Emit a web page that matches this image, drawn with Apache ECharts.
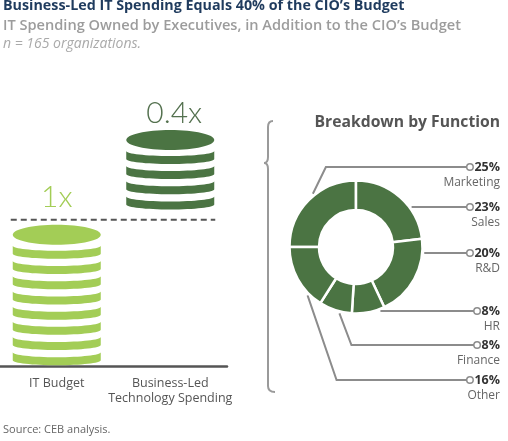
<!DOCTYPE html>
<html>
<head>
<meta charset="utf-8">
<script src="https://cdn.jsdelivr.net/npm/echarts@6/dist/echarts.min.js"></script>
<style>
  html, body { margin: 0; padding: 0; background: #fff; }
  #main { width: 508px; height: 441px; }
</style>
</head>
<body>
<div id="main"></div>
<script>
// left panel: coin stacks
const categories = ['IT Budget', 'Business-Led\nTechnology Spending'];
const multipliers = ['1x', '0.4x'];
const coinCounts = [9, 5]; // coins drawn in each stack

// right panel: breakdown by function (%)
const functions = ['Marketing', 'Sales', 'R&D', 'HR', 'Finance', 'Other'];
const shares = [25, 23, 20, 8, 8, 16];

const FONT = '"Open Sans", "DejaVu Sans", sans-serif';
const COIN_COLORS = ['#a3cd56', '#4b7443'];
const MULT_COLORS = ['#a3cd56', '#54714f'];
const COIN_W = 88, FACE_H = 20, ARC_RY = 5, BAND = 8;
const MULT_LIFT = [27, 17]; // label centre above stack top
const MULT_SHIFT = [0, 4];
const K = 0.5523; // bezier circle constant

// pie geometry + label column
const PIE_CX = 356, PIE_CY = 247, FOOT_R = 68.5, LABEL_RIGHT = 500;
const LEADERS = [
  { y: 167, footAngle: 321, elbowDx: 13 },
  { y: 207 },
  { y: 253 },
  { y: 311 },
  { y: 345, footAngle: 194, elbowDx: 12 },
  { y: 380, footAngle: 225, elbowDx: 29 }
];

const measureCtx = document.createElement('canvas').getContext('2d');
function textWidth(str, font) {
  measureCtx.font = font;
  return measureCtx.measureText(str).width;
}

// lower half of an ellipse, left -> right (or right -> left when reversed)
function halfArc(cx, y, rx, ry, reverse) {
  if (!reverse) {
    return `C${cx - rx} ${y + K * ry} ${cx - K * rx} ${y + ry} ${cx} ${y + ry} ` +
           `C${cx + K * rx} ${y + ry} ${cx + rx} ${y + K * ry} ${cx + rx} ${y} `;
  }
  return `C${cx + rx} ${y + K * ry} ${cx + K * rx} ${y + ry} ${cx} ${y + ry} ` +
         `C${cx - K * rx} ${y + ry} ${cx - rx} ${y + K * ry} ${cx - rx} ${y} `;
}
function crescent(cx, top) {
  const rx = COIN_W / 2;
  return `M${cx - rx} ${top} ` + halfArc(cx, top, rx, ARC_RY, false) +
         `L${cx + rx} ${top + BAND} ` + halfArc(cx, top + BAND, rx, ARC_RY, true) + 'Z';
}
function face(cx, bottom) {
  const rx = COIN_W / 2, ry = FACE_H / 2, cy = bottom - ry;
  return `M${cx - rx} ${cy} ` + halfArc(cx, cy, rx, ry, false) +
         `C${cx + rx} ${cy - K * ry} ${cx + K * rx} ${cy - ry} ${cx} ${cy - ry} ` +
         `C${cx - K * rx} ${cy - ry} ${cx - rx} ${cy - K * ry} ${cx - rx} ${cy} Z`;
}

function renderCoins(params, api) {
  const i = api.value(0);
  const n = api.value(1);
  const pitch = api.size([0, 1])[1];
  const x = api.coord([i, 0])[0];
  // top of the IT budget stack = the 1x reference line
  const lightTop = api.coord([0, coinCounts[0] - 1])[1] - FACE_H;
  const refY = lightTop - 5;
  const bottom = i === 0 ? api.coord([0, 0])[1] : refY - 9;
  const color = COIN_COLORS[i];
  const children = [];
  for (let k = 0; k < n - 1; k++) {
    children.push({
      type: 'path',
      shape: { pathData: crescent(x, bottom - (k + 1) * pitch + 1) },
      style: { fill: color }
    });
  }
  const faceBottom = bottom - (n - 1) * pitch;
  children.push({ type: 'path', shape: { pathData: face(x, faceBottom) }, style: { fill: color } });
  children.push({
    type: 'text',
    style: {
      text: multipliers[i], x: x + MULT_SHIFT[i], y: faceBottom - FACE_H - MULT_LIFT[i],
      fill: MULT_COLORS[i], fontSize: 30, fontWeight: 300, fontFamily: 'Lato, ' + FONT,
      align: 'center', verticalAlign: 'middle'
    }
  });
  if (i === 0) {
    children.push({
      type: 'line',
      shape: { x1: x - COIN_W / 2 - 2, y1: refY, x2: api.coord([1, 0])[0] + COIN_W / 2 + 1, y2: refY },
      style: { stroke: '#555', lineWidth: 2, lineDash: [6, 4] }
    });
  }
  return { type: 'group', children: children };
}

// curly bracket joining the stack to the breakdown
const BRACE = { stroke: '#9a9a9a', lineWidth: 2, fill: 'none' };
const braceParts = [
  { type: 'bezierCurve', shape: { x1: 273, y1: 121, cpx1: 268, cpy1: 121, x2: 268, y2: 127 } },
  { type: 'line', shape: { x1: 268, y1: 127, x2: 268, y2: 157 } },
  { type: 'bezierCurve', shape: { x1: 268, y1: 157, cpx1: 268, cpy1: 163, x2: 264, y2: 163 } },
  { type: 'bezierCurve', shape: { x1: 264, y1: 163, cpx1: 268, cpy1: 163, x2: 268, y2: 169 } },
  { type: 'line', shape: { x1: 268, y1: 169, x2: 268, y2: 386 } },
  { type: 'bezierCurve', shape: { x1: 268, y1: 386, cpx1: 268, cpy1: 392, x2: 275, y2: 392 } }
].map(p => Object.assign(p, { style: BRACE, silent: true }));

const chart = echarts.init(document.getElementById('main'));
chart.setOption({
  animation: false,
  title: [
    { text: 'Business-Led IT Spending Equals 40% of the CIO’s Budget', left: 3, top: -1, padding: 0,
      textStyle: { fontFamily: FONT, fontSize: 14.3, fontWeight: 'bold', color: '#1f3b5e' } },
    { text: 'IT Spending Owned by Executives, in Addition to the CIO’s Budget', left: 3, top: 18, padding: 0,
      textStyle: { fontFamily: FONT, fontSize: 14.6, fontWeight: 600, color: '#9c9c9c' } },
    { text: 'n = 165 organizations.', left: 3, top: 37, padding: 0,
      textStyle: { fontFamily: FONT, fontSize: 14, fontStyle: 'italic', fontWeight: 'normal', color: '#aaa' } },
    { text: 'Breakdown by Function', right: 8, top: 115, padding: 0,
      textStyle: { fontFamily: FONT, fontSize: 15.7, fontWeight: 'bold', color: '#555' } },
    { text: 'Source: CEB analysis.', left: 3, top: 424, padding: 0,
      textStyle: { fontFamily: FONT, fontSize: 11, fontWeight: 'normal', color: '#666' } }
  ],
  grid: { left: -2, width: 229, top: 123, bottom: 74.5 },
  xAxis: {
    type: 'category',
    data: categories,
    axisLine: { lineStyle: { color: '#555', width: 2.5 } },
    axisTick: { show: false },
    axisLabel: { interval: 0, color: '#555', fontFamily: FONT, fontSize: 12.5, lineHeight: 15, margin: 9 }
  },
  yAxis: { type: 'value', min: 0, max: 16, show: false },
  graphic: [{ type: 'group', children: braceParts }],
  series: [
    {
      type: 'custom',
      clip: false,
      renderItem: renderCoins,
      data: categories.map((c, i) => [i, coinCounts[i]])
    },
    {
      type: 'pie',
      center: [PIE_CX, PIE_CY],
      radius: [37, 66.5],
      startAngle: 180,
      clockwise: true,
      emphasis: { disabled: true },
      itemStyle: { color: '#4b7443', borderColor: '#fff', borderWidth: 2.5 },
      data: functions.map((name, i) => ({ name: name, value: shares[i] })),
      label: {
        formatter: p => `{dot| }{pct|${p.value}%}\n{name|${p.name}}`,
        rich: {
          dot: { width: 5, height: 5, borderRadius: 4, borderWidth: 1.5, borderColor: '#8c8c8c', backgroundColor: '#fff' },
          pct: { fontFamily: FONT, fontSize: 12.5, fontWeight: 'bold', color: '#333', lineHeight: 16, padding: [0, 0, 0, 2] },
          name: { fontFamily: FONT, fontSize: 12, color: '#666', lineHeight: 16 }
        }
      },
      labelLine: { show: true, lineStyle: { color: '#8c8c8c', width: 2 } },
      labelLayout: function (params) {
        const i = params.dataIndex;
        const L = LEADERS[i];
        const pctW = textWidth(shares[i] + '%', `bold 12.5px ${FONT}`);
        const endX = LABEL_RIGHT - pctW - 2 - 2.5;
        let foot, elbow;
        if (L.footAngle != null) {
          const a = L.footAngle * Math.PI / 180;
          foot = [PIE_CX + FOOT_R * Math.sin(a), PIE_CY - FOOT_R * Math.cos(a)];
          elbow = [foot[0] + L.elbowDx, L.y];
        } else {
          const dy = L.y - PIE_CY;
          foot = [PIE_CX + Math.sqrt(FOOT_R * FOOT_R - dy * dy), L.y];
          elbow = foot;
        }
        return {
          x: LABEL_RIGHT, y: L.y - 8, align: 'right', verticalAlign: 'top',
          labelLinePoints: [foot, elbow, [endX, L.y]]
        };
      }
    }
  ]
});
</script>
</body>
</html>
